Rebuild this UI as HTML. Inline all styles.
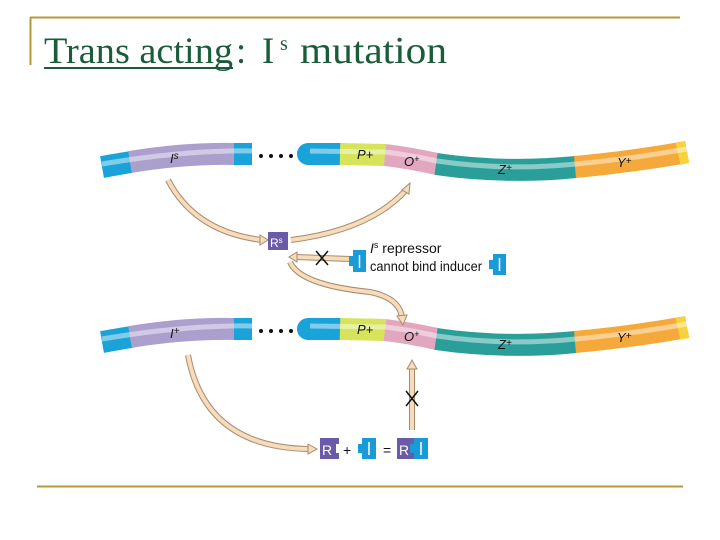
<!DOCTYPE html>
<html><head><meta charset="utf-8"><style>
html,body{margin:0;padding:0;background:#fff;}
svg{display:block;}
</style></head><body>
<svg width="720" height="540" viewBox="0 0 720 540" xmlns="http://www.w3.org/2000/svg">
<defs>
<g id="row">
  <path d="M102,167 Q130,162 132,162" stroke="#1aa3d9" stroke-width="22" fill="none"/>
  <path d="M130,162 Q185,153 235,154" stroke="#ab9fce" stroke-width="22" fill="none"/>
  <path d="M234,154 L252,154" stroke="#1aa3d9" stroke-width="22" fill="none"/>
  <path d="M102,164 Q185,150 252,151" stroke="#fff" stroke-opacity="0.45" stroke-width="5" fill="none"/>
  <g fill="#111"><circle cx="261" cy="156" r="2"/><circle cx="271" cy="156" r="2"/><circle cx="281" cy="156" r="2"/><circle cx="291" cy="156" r="2"/><circle cx="300" cy="156" r="2"/></g>
  <path d="M308,154 L341,154" stroke="#1aa3d9" stroke-width="22" fill="none" stroke-linecap="round"/>
  <path d="M340,154 L386,155" stroke="#d7e35a" stroke-width="22" fill="none"/>
  <path d="M385,155 Q410,158 437,164" stroke="#e2a7bf" stroke-width="22" fill="none"/>
  <path d="M436,164 Q505,174 576,167" stroke="#2a9f9a" stroke-width="22" fill="none"/>
  <path d="M575,167 Q630,162 687,152" stroke="#f5a93a" stroke-width="22" fill="none"/>
  <path d="M678,154 L687,152" stroke="#f7d23a" stroke-width="22" fill="none"/>
  <path d="M310,151 L385,152 Q410,155 437,161 Q505,171 576,164 Q630,159 687,149" stroke="#fff" stroke-opacity="0.45" stroke-width="5" fill="none"/>
  <g font-family="Liberation Sans, sans-serif" font-style="italic" font-size="13" fill="#111">
    <text x="357" y="159">P+</text>
    <text x="404" y="166">O<tspan font-size="9" dy="-4">+</tspan></text>
    <text x="498" y="174">Z<tspan font-size="10" dy="-3">+</tspan></text>
    <text x="617" y="167">Y<tspan font-size="10" dy="-3">+</tspan></text>
  </g>
</g>
</defs>

<line x1="30" y1="17.5" x2="680" y2="17.5" stroke="#b59a3a" stroke-width="2"/>
<line x1="30.5" y1="17" x2="30.5" y2="65" stroke="#b59a3a" stroke-width="2"/>
<line x1="37" y1="486.5" x2="683" y2="486.5" stroke="#b59a3a" stroke-width="2"/>

<g font-family="Liberation Serif, serif" fill="#1a5c3a">
<text x="44" y="63" font-size="36.5" textLength="189" lengthAdjust="spacingAndGlyphs">Trans acting</text>
<text x="236" y="63" font-size="36.5">:</text>
<text x="262" y="63" font-size="36.5">I</text>
<text x="280" y="50" font-size="20">s</text>
<text x="300" y="63" font-size="38" textLength="147" lengthAdjust="spacingAndGlyphs">mutation</text>
</g>
<line x1="44" y1="68" x2="233" y2="68" stroke="#1a5c3a" stroke-width="2"/>

<use href="#row"/>
<text x="170" y="163" font-family="Liberation Sans, sans-serif" font-style="italic" font-size="13" fill="#111">I<tspan font-size="10" dy="-4">s</tspan></text>
<use href="#row" transform="translate(0,175)"/>
<text x="170" y="338" font-family="Liberation Sans, sans-serif" font-style="italic" font-size="13" fill="#111">I<tspan font-size="10" dy="-4">+</tspan></text>

<g fill="none" stroke-linecap="butt">
  <g stroke="#a88a6a" stroke-width="6">
    <path d="M168,180 Q195,232 262,240"/>
    <path d="M291,240 Q370,230 406,190"/>
    <path d="M350,259 L296,257"/>
    <path d="M290,262 Q300,285 370,292 Q400,298 402,318"/>
    <path d="M188,355 Q205,448 310,449"/>
    <path d="M412,430 L412,368"/>
  </g>
  <g stroke="#f6dcbc" stroke-width="4">
    <path d="M168,180 Q195,232 262,240"/>
    <path d="M291,240 Q370,230 406,190"/>
    <path d="M350,259 L296,257"/>
    <path d="M290,262 Q300,285 370,292 Q400,298 402,318"/>
    <path d="M188,355 Q205,448 310,449"/>
    <path d="M412,430 L412,368"/>
  </g>
</g>
<g fill="#f6dcbc" stroke="#a88a6a" stroke-width="1">
  <polygon points="260,235 268,240 260,245"/>
  <polygon points="402,190 410,183 409,194"/>
  <polygon points="297,252 289,257 297,262"/>
  <polygon points="397,316 403,325 407,315"/>
  <polygon points="308,444 317,449 308,454"/>
  <polygon points="407,369 412,360 417,369"/>
</g>
<g stroke="#111" stroke-width="1.5">
  <line x1="316" y1="251" x2="328" y2="265"/><line x1="328" y1="251" x2="316" y2="265"/>
  <line x1="406" y1="391" x2="418" y2="406"/><line x1="418" y1="391" x2="406" y2="406"/>
</g>

<rect x="268" y="232" width="20" height="18" fill="#6b5aa8"/>
<text x="270" y="247" font-family="Liberation Sans, sans-serif" font-size="12" fill="#fff">R<tspan font-size="8" dy="-4">s</tspan></text>

<g>
  <rect x="353" y="250" width="13" height="22" fill="#1a9ad6"/><rect x="349" y="256" width="5" height="10" fill="#1a9ad6"/>
  <line x1="359.5" y1="255" x2="359.5" y2="268" stroke="#fff" stroke-width="1.5"/>
  <rect x="493" y="254" width="13" height="21" fill="#1a9ad6"/><rect x="489" y="260" width="5" height="9" fill="#1a9ad6"/>
  <line x1="499.5" y1="258" x2="499.5" y2="271" stroke="#fff" stroke-width="1.5"/>
</g>
<g font-family="Liberation Sans, sans-serif" font-size="14" fill="#111">
  <text x="370" y="253"><tspan font-style="italic">I</tspan><tspan font-size="9" dy="-5">s</tspan><tspan dy="5"> repressor</tspan></text>
  <text x="370" y="271" textLength="112" lengthAdjust="spacingAndGlyphs">cannot bind inducer</text>
</g>

<rect x="320" y="438" width="19" height="21" fill="#6b5aa8"/>
<rect x="336" y="444" width="4" height="9" fill="#fff"/>
<text x="322" y="455" font-family="Liberation Sans, sans-serif" font-size="14" fill="#fff">R</text>
<text x="343" y="455" font-family="Liberation Sans, sans-serif" font-size="14" fill="#111">+</text>
<rect x="362" y="438" width="14" height="21" fill="#1a9ad6"/><rect x="358" y="444" width="5" height="9" fill="#1a9ad6"/>
<line x1="369" y1="442" x2="369" y2="455" stroke="#fff" stroke-width="1.5"/>
<text x="383" y="455" font-family="Liberation Sans, sans-serif" font-size="14" fill="#111">=</text>
<rect x="397" y="438" width="17" height="21" fill="#6b5aa8"/>
<rect x="414" y="438" width="14" height="21" fill="#1a9ad6"/><rect x="410" y="444" width="5" height="9" fill="#1a9ad6"/>
<text x="399" y="455" font-family="Liberation Sans, sans-serif" font-size="14" fill="#fff">R</text>
<line x1="421" y1="442" x2="421" y2="455" stroke="#fff" stroke-width="1.5"/>
</svg>
</body></html>
